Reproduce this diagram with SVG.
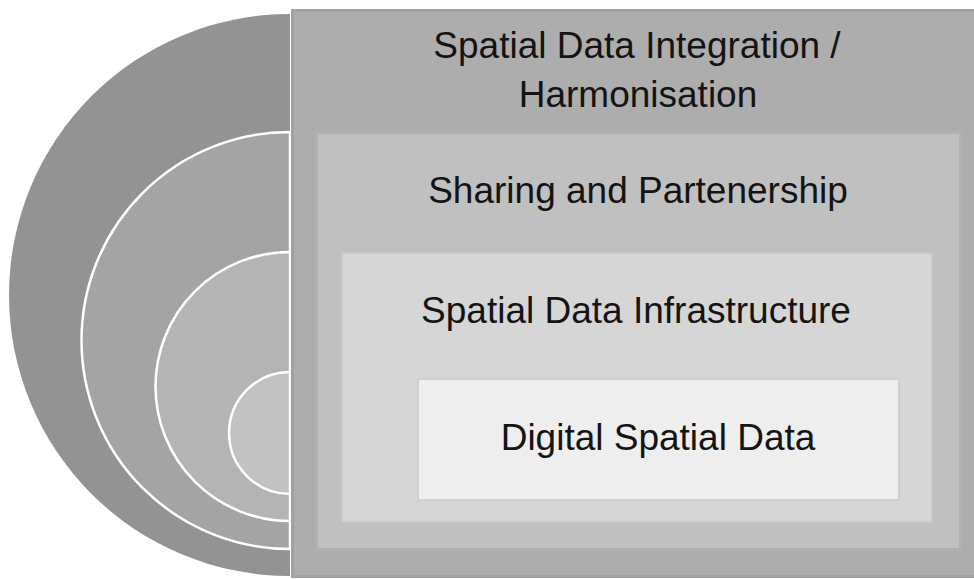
<svg xmlns="http://www.w3.org/2000/svg" width="974" height="579" viewBox="0 0 974 579">
<style>
.lbl{font-family:"Liberation Sans",Arial,sans-serif;font-size:37px;fill:#141414;text-anchor:middle}
.arc{stroke:#ffffff;stroke-width:2.5}
</style>
<rect x="0" y="0" width="974" height="579" fill="#ffffff"/>
<g id="rings">
<path d="M290,14 A281,281 0 0 0 290,576 Z" fill="#939393"/>
<path class="arc" d="M290,132 A208.5,208.5 0 0 0 290,549 Z" fill="#a4a4a4"/>
<path class="arc" d="M290,252 A134.5,134.5 0 0 0 290,521 Z" fill="#b4b4b4"/>
<path class="arc" d="M290,372 A61,61 0 0 0 290,494 Z" fill="#c2c2c2"/>
</g>
<g id="integration">
<rect x="292.5" y="10.5" width="690" height="566" fill="#adadad" stroke="#a1a1a1" stroke-width="3"/>
<text class="lbl" x="637" y="58">Spatial Data Integration /</text>
<text class="lbl" x="638" y="107">Harmonisation</text>
</g>
<g id="sharing">
<rect x="316.5" y="132.5" width="644" height="417" fill="#c0c0c0" stroke="#b1b1b1" stroke-width="3"/>
<text class="lbl" x="638" y="203">Sharing and Partenership</text>
</g>
<g id="sdi">
<rect x="342" y="253" width="590" height="269" fill="#d6d6d6" stroke="#c9c9c9" stroke-width="2"/>
<text class="lbl" x="636" y="323">Spatial Data Infrastructure</text>
</g>
<g id="digital">
<rect x="418" y="379" width="481" height="121" fill="#eeeeee" stroke="#d0d0d0" stroke-width="2"/>
<text class="lbl" x="658" y="450">Digital Spatial Data</text>
</g>
<g id="connectors"/>
</svg>
